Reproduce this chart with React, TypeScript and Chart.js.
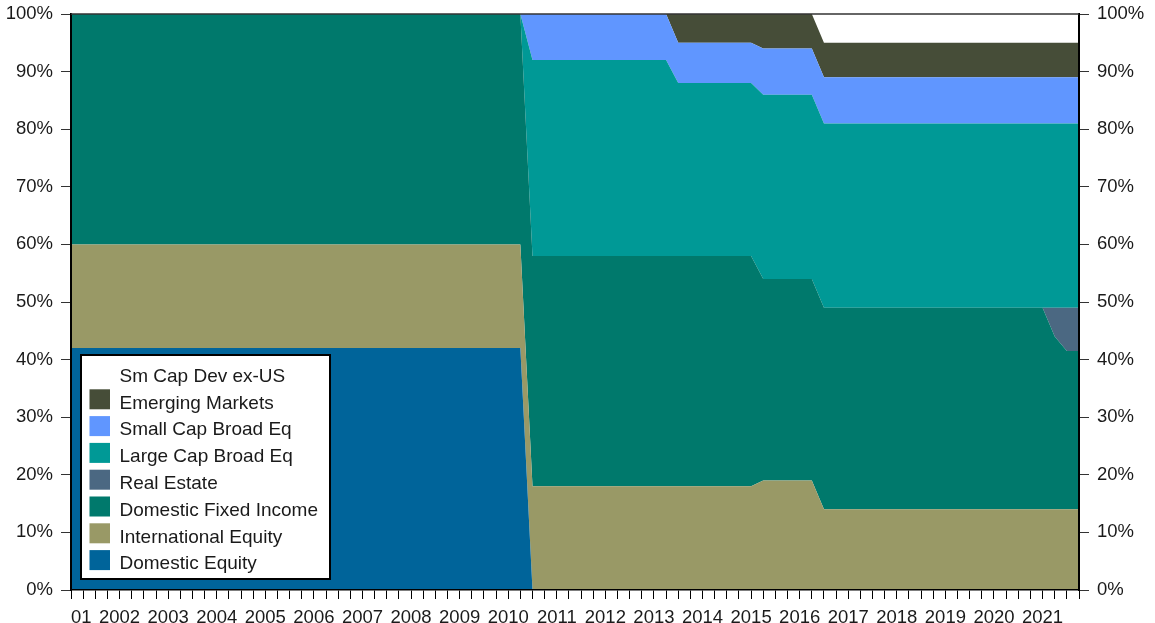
import React, { useEffect, useRef } from 'react';
import { Chart, registerables } from 'chart.js';

Chart.register(...registerables);

// Year tick labels (one per year, quarterly categories)
const yearLabels = [
  '    01', '2002', '2003', '2004', '2005', '2006', '2007', '2008', '2009', '2010',
  '2011', '2012', '2013', '2014', '2015', '2016', '2017', '2018', '2019', '2020', '2021',
];

// Quarterly allocations (%), one row per year: Q1, Q2, Q3, Q4
const domesticEquity = [
  42, 42, 42, 42, 42, 42, 42, 42, 42, 42, 42, 42, 42, 42, 42, 42, 42, 42, 42, 42,
  42, 42, 42, 42, 42, 42, 42, 42, 42, 42, 42, 42, 42, 42, 42, 42, 42, 42, 0, 0,
  0, 0, 0, 0, 0, 0, 0, 0, 0, 0, 0, 0, 0, 0, 0, 0, 0, 0, 0, 0,
  0, 0, 0, 0, 0, 0, 0, 0, 0, 0, 0, 0, 0, 0, 0, 0, 0, 0, 0, 0,
  0, 0, 0, 0,
];
const internationalEquity = [
  18, 18, 18, 18, 18, 18, 18, 18, 18, 18, 18, 18, 18, 18, 18, 18, 18, 18, 18, 18,
  18, 18, 18, 18, 18, 18, 18, 18, 18, 18, 18, 18, 18, 18, 18, 18, 18, 18, 18, 18,
  18, 18, 18, 18, 18, 18, 18, 18, 18, 18, 18, 18, 18, 18, 18, 18, 18, 19, 19, 19,
  19, 19, 14, 14, 14, 14, 14, 14, 14, 14, 14, 14, 14, 14, 14, 14, 14, 14, 14, 14,
  14, 14, 14, 14,
];
const domesticFixedIncome = [
  40, 40, 40, 40, 40, 40, 40, 40, 40, 40, 40, 40, 40, 40, 40, 40, 40, 40, 40, 40,
  40, 40, 40, 40, 40, 40, 40, 40, 40, 40, 40, 40, 40, 40, 40, 40, 40, 40, 40, 40,
  40, 40, 40, 40, 40, 40, 40, 40, 40, 40, 40, 40, 40, 40, 40, 40, 40, 35, 35, 35,
  35, 35, 35, 35, 35, 35, 35, 35, 35, 35, 35, 35, 35, 35, 35, 35, 35, 35, 35, 35,
  35, 30, 27.5, 27.5,
];
const realEstate = [
  0, 0, 0, 0, 0, 0, 0, 0, 0, 0, 0, 0, 0, 0, 0, 0, 0, 0, 0, 0,
  0, 0, 0, 0, 0, 0, 0, 0, 0, 0, 0, 0, 0, 0, 0, 0, 0, 0, 0, 0,
  0, 0, 0, 0, 0, 0, 0, 0, 0, 0, 0, 0, 0, 0, 0, 0, 0, 0, 0, 0,
  0, 0, 0, 0, 0, 0, 0, 0, 0, 0, 0, 0, 0, 0, 0, 0, 0, 0, 0, 0,
  0, 5, 7.5, 7.5,
];
const largeCapBroadEq = [
  0, 0, 0, 0, 0, 0, 0, 0, 0, 0, 0, 0, 0, 0, 0, 0, 0, 0, 0, 0,
  0, 0, 0, 0, 0, 0, 0, 0, 0, 0, 0, 0, 0, 0, 0, 0, 0, 0, 34, 34,
  34, 34, 34, 34, 34, 34, 34, 34, 34, 34, 30, 30, 30, 30, 30, 30, 30, 32, 32, 32,
  32, 32, 32, 32, 32, 32, 32, 32, 32, 32, 32, 32, 32, 32, 32, 32, 32, 32, 32, 32,
  32, 32, 32, 32,
];
const smallCapBroadEq = [
  0, 0, 0, 0, 0, 0, 0, 0, 0, 0, 0, 0, 0, 0, 0, 0, 0, 0, 0, 0,
  0, 0, 0, 0, 0, 0, 0, 0, 0, 0, 0, 0, 0, 0, 0, 0, 0, 0, 8, 8,
  8, 8, 8, 8, 8, 8, 8, 8, 8, 8, 7, 7, 7, 7, 7, 7, 7, 8, 8, 8,
  8, 8, 8, 8, 8, 8, 8, 8, 8, 8, 8, 8, 8, 8, 8, 8, 8, 8, 8, 8,
  8, 8, 8, 8,
];
const emergingMarkets = [
  0, 0, 0, 0, 0, 0, 0, 0, 0, 0, 0, 0, 0, 0, 0, 0, 0, 0, 0, 0,
  0, 0, 0, 0, 0, 0, 0, 0, 0, 0, 0, 0, 0, 0, 0, 0, 0, 0, 0, 0,
  0, 0, 0, 0, 0, 0, 0, 0, 0, 0, 5, 5, 5, 5, 5, 5, 5, 6, 6, 6,
  6, 6, 6, 6, 6, 6, 6, 6, 6, 6, 6, 6, 6, 6, 6, 6, 6, 6, 6, 6,
  6, 6, 6, 6,
];
const smCapDevExUS = [
  0, 0, 0, 0, 0, 0, 0, 0, 0, 0, 0, 0, 0, 0, 0, 0, 0, 0, 0, 0,
  0, 0, 0, 0, 0, 0, 0, 0, 0, 0, 0, 0, 0, 0, 0, 0, 0, 0, 0, 0,
  0, 0, 0, 0, 0, 0, 0, 0, 0, 0, 0, 0, 0, 0, 0, 0, 0, 0, 0, 0,
  0, 0, 5, 5, 5, 5, 5, 5, 5, 5, 5, 5, 5, 5, 5, 5, 5, 5, 5, 5,
  5, 5, 5, 5,
];

const seriesNames = [
  'Domestic Equity',
  'International Equity',
  'Domestic Fixed Income',
  'Real Estate',
  'Large Cap Broad Eq',
  'Small Cap Broad Eq',
  'Emerging Markets',
  'Sm Cap Dev ex-US',
];
const seriesColors = [
  '#00649A',
  '#999966',
  '#00796C',
  '#4B6882',
  '#009996',
  '#6096FF',
  '#464D38',
  '#FFFFFF',
];
const seriesValues = [
  domesticEquity,
  internationalEquity,
  domesticFixedIncome,
  realEstate,
  largeCapBroadEq,
  smallCapBroadEq,
  emergingMarkets,
  smCapDevExUS,
];

const FONT = '"Liberation Sans", Arial, Helvetica, sans-serif';

const frameAndLegend = {
  id: 'frameAndLegend',
  afterDraw(chart: any) {
    const { ctx, chartArea } = chart;
    ctx.save();
    // top frame line
    ctx.strokeStyle = '#333';
    ctx.lineWidth = 1.5;
    ctx.beginPath();
    ctx.moveTo(chartArea.left, chartArea.top);
    ctx.lineTo(chartArea.right, chartArea.top);
    ctx.stroke();

    // boxed legend inside plot, lower-left
    const bx = chartArea.left + 9;
    const bw = 251;
    const bh = 226;
    const by = chartArea.bottom - 10 - bh;
    ctx.fillStyle = '#FFFFFF';
    ctx.fillRect(bx, by, bw, bh);
    ctx.strokeStyle = '#000';
    ctx.lineWidth = 2;
    ctx.strokeRect(bx + 1, by + 1, bw - 2, bh - 2);

    const ds = chart.data.datasets.slice().reverse();
    ctx.font = '19px ' + FONT;
    ctx.textBaseline = 'alphabetic';
    ctx.textAlign = 'left';
    const rowH = 26.8;
    ds.forEach((d: any, i: number) => {
      const sy = by + 8.5 + i * rowH;
      ctx.fillStyle = d.backgroundColor;
      ctx.fillRect(bx + 9.5, sy, 20.5, 20);
      ctx.fillStyle = '#1a1a1a';
      ctx.fillText(d.label, bx + 39.5, by + 27.8 + i * rowH);
    });
    ctx.restore();
  },
};

export default function App() {
  const ref = useRef<HTMLCanvasElement | null>(null);

  useEffect(() => {
    if (!ref.current) return;
    const labels: string[] = [];
    yearLabels.forEach((y) => labels.push(y, '', '', ''));

    const datasets = seriesNames.map((name, i) => ({
      label: name,
      data: seriesValues[i],
      backgroundColor: seriesColors[i],
      borderColor: seriesColors[i],
      borderWidth: 0,
      pointRadius: 0,
      tension: 0,
      fill: i === 0 ? 'origin' : '-1',
    }));

    const tickFont = { family: FONT, size: 18.5 };

    const fitY = (w: number) => (s: any) => {
      s.width = w;
      s.paddingTop = 0;
      s.paddingBottom = 0;
    };

    const chart = new Chart(ref.current, {
      type: 'line',
      data: { labels, datasets },
      options: {
        animation: false,
        responsive: true,
        maintainAspectRatio: false,
        layout: { padding: { top: 14, left: 0, right: 0, bottom: 0 } },
        plugins: {
          legend: { display: false },
          tooltip: { enabled: false },
        },
        elements: { line: { borderWidth: 0 } },
        scales: {
          x: {
            type: 'category',
            offset: false,
            afterFit: (s: any) => {
              s.height = 33;
              s.paddingLeft = 0;
              s.paddingRight = 0;
            },
            grid: {
              drawOnChartArea: false,
              drawTicks: true,
              tickLength: 9,
              tickColor: '#000',
              tickWidth: 1,
            },
            border: { display: true, color: '#000', width: 1.5, z: 1 },
            ticks: {
              autoSkip: false,
              maxRotation: 0,
              minRotation: 0,
              padding: 8,
              color: '#1a1a1a',
              font: tickFont,
            },
          },
          y: {
            position: 'left',
            stacked: true,
            min: 0,
            max: 100,
            afterFit: fitY(71),
            grid: {
              drawOnChartArea: false,
              tickLength: 10,
              tickColor: '#333',
            },
            border: { display: true, color: '#000', width: 2, z: 1 },
            ticks: {
              stepSize: 10,
              padding: 8,
              color: '#1a1a1a',
              font: tickFont,
              callback: (v: any) => v + '%',
            },
          },
          y2: {
            display: true,
            position: 'right',
            min: 0,
            max: 100,
            afterFit: fitY(76),
            grid: {
              drawOnChartArea: false,
              tickLength: 10,
              tickColor: '#333',
            },
            border: { display: true, color: '#000', width: 2, z: 1 },
            ticks: {
              stepSize: 10,
              padding: 8,
              color: '#1a1a1a',
              font: tickFont,
              callback: (v: any) => v + '%',
            },
          },
        },
      },
      plugins: [frameAndLegend],
    } as any);

    return () => chart.destroy();
  }, []);

  return (
    <div style={{ position: 'fixed', left: 0, top: 0, width: 1155, height: 623, background: '#fff' }}>
      <canvas ref={ref} />
    </div>
  );
}
